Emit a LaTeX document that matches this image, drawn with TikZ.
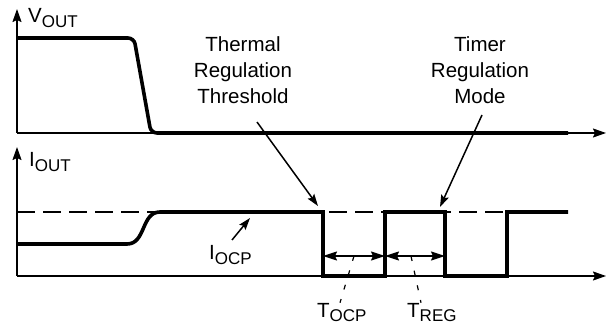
\documentclass[tikz,border=0pt]{standalone}
\usepackage{fontspec}
\setmainfont{Liberation Sans}
\usetikzlibrary{arrows.meta, positioning, calc}

\newcommand{\subtxt}[1]{\raisebox{-0.2em}{\fontsize{17}{17}\selectfont #1}}

\begin{document}
\begin{tikzpicture}[x=1pt, y=-1pt,
    >={Stealth[length=13pt, width=9pt, inset=2pt]},
    lbl/.style={inner sep=0pt, font=\fontsize{20.5}{26}\selectfont},
    axis/.style={line width=1.6pt, ->},
    wave/.style={line width=3.6pt, line join=miter},
    pointer/.style={line width=1.5pt, ->, >={Stealth[length=12pt, width=8pt, inset=2pt]}},
    span/.style={line width=1.5pt, <->, >={Stealth[length=14pt, width=9pt, inset=2pt]}},
    leader/.style={line width=1.2pt, dash pattern=on 5pt off 10pt},
    limit/.style={line width=1.4pt, dash pattern=on 18pt off 8pt}]
    \useasboundingbox (0,0) rectangle (608,331);

    % Labels
    \node (vout) [lbl, anchor=base west] at (28,23) {V\subtxt{OUT}};
    \node (iout) [lbl, anchor=base west] at (29,167) {I\subtxt{OUT}};
    \node (thermal) [lbl, align=center, anchor=north] at (243,36) {Thermal\\Regulation\\Threshold};
    \node (timer) [lbl, align=center, anchor=north] at (480,36) {Timer\\Regulation\\Mode};
    \node (iocp) [lbl, anchor=base west] at (209,260) {I\subtxt{OCP}};
    \node (tocp) [lbl, anchor=base west] at (317,317) {T\subtxt{OCP}};
    \node (treg) [lbl, anchor=base west] at (407,317) {T\subtxt{REG}};

    % Axes
    \coordinate (o1) at (17,133);
    \coordinate (o2) at (17,276);
    \draw[axis] (o1) -- (17,9);
    \draw[axis] (o1) -- (606,133);
    \draw[axis] (o2) -- (17,147);
    \draw[axis] (o2) -- (606,276);

    % Current limit
    \draw[limit] (17,212) -- (568,212);

    % Output voltage
    \draw[wave, rounded corners=6pt] (17,38) -- (134,38) -- (151,133) -- (568,133);

    % Output current
    \coordinate (c1) at (323,212);
    \coordinate (c2) at (385,276);
    \coordinate (c3) at (445,212);
    \coordinate (c4) at (507,276);
    \draw[wave] (17,244) -- (127,244) .. controls (146,244) and (141,212) .. (160,212)
        -- (c1) -- (c1 |- c2) -- (c2) -- (c2 |- c1) -- (c3) -- (c3 |- c4) -- (c4) -- (c4 |- c3) -- (568,212);

    % Timing spans
    \coordinate (m1) at (354,256);
    \coordinate (m2) at (411,256);
    \draw[span] (c1 |- m1) -- (c2 |- m1);
    \draw[span] (c2 |- m1) -- (c3 |- m1);
    \draw[leader] (m1) -- (tocp.north -| 340,0);
    \draw[leader] (m2) -- (treg.north -| 421,0);

    % Callouts
    \coordinate (thA) at (257,122);
    \coordinate (tmA) at (482,115);
    \coordinate (ocA) at (232,240);
    \draw[pointer] (thA) -- (318,206);
    \draw[pointer] (tmA) -- (440,207);
    \draw[pointer] (ocA) -- (250,218);
\end{tikzpicture}
\end{document}
